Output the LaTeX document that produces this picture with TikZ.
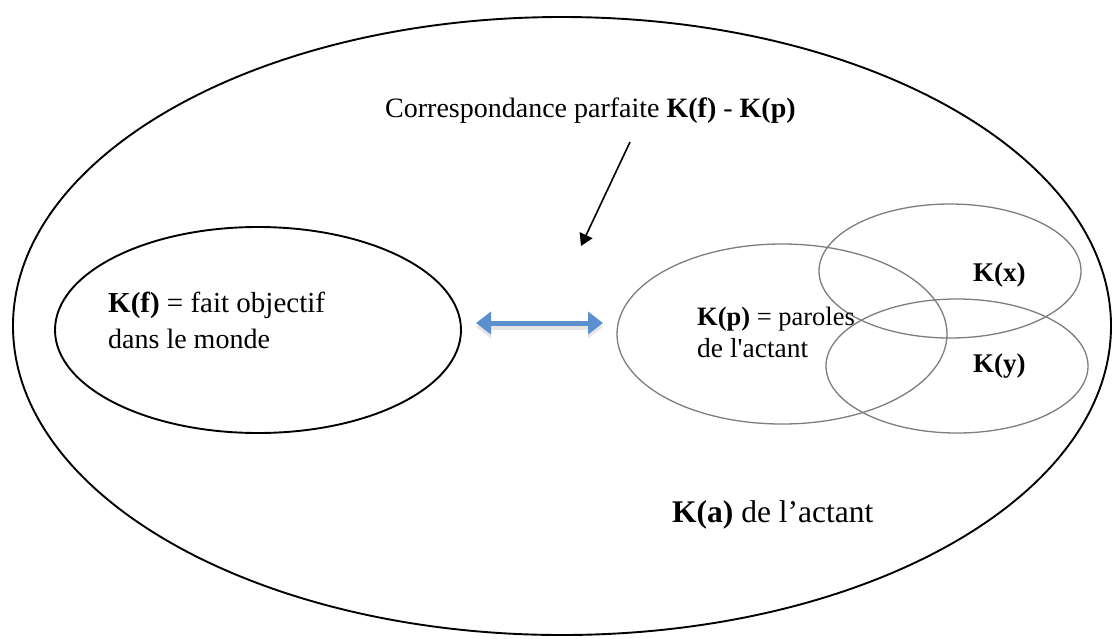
\documentclass[tikz,border=0pt]{standalone}
\usepackage{fontspec}
\setmainfont{Liberation Serif}
\usetikzlibrary{shapes.geometric,arrows.meta}
\definecolor{arrowblue}{RGB}{91,143,205}
\definecolor{ringgray}{RGB}{125,125,125}
\tikzset{
  blackring/.style={ellipse, draw=black, line width=1.9pt, inner sep=0pt},
  grayring/.style={ellipse, draw=ringgray, line width=1.3pt, inner sep=0pt},
  txt/.style={anchor=base west, inner sep=0pt, font=\fontsize{27}{32}\selectfont},
  bigtxt/.style={anchor=base west, inner sep=0pt, font=\fontsize{31.5}{36}\selectfont},
  pointer/.style={draw=black, line width=1.6pt, -{Triangle[length=12pt,width=14pt]}},
  twoway/.style={draw=arrowblue, line width=5pt, {Triangle[length=15pt,width=22pt]}-{Triangle[length=15pt,width=22pt]},
    preaction={draw=black!10, line width=6pt, transform canvas={yshift=-4pt}}}
}
\begin{document}
\begin{tikzpicture}[x=1pt,y=-1pt]
\useasboundingbox (0,0) rectangle (1113,638);
% outer ellipse
\node[blackring, minimum width=1098pt, minimum height=618pt] (ka) at (562,326) {};
% left ellipse
\node[blackring, minimum width=406pt, minimum height=206pt] (kf) at (258,330) {};
% right ellipses
\node[grayring, minimum width=330pt, minimum height=180pt] (kp) at (782,334) {};
\node[grayring, minimum width=262pt, minimum height=134pt] (kx) at (950,271) {};
\node[grayring, minimum width=262pt, minimum height=134pt] (ky) at (957,366) {};
% texts
\node[txt, font=\fontsize{28}{32}\selectfont] (title) at (385,117) {Correspondance parfaite \textbf{K(f)} - \textbf{K(p)}};
\node[txt, font=\fontsize{29}{32}\selectfont] (kf1) at (108,312) {\textbf{K(f)} = fait objectif};
\node[txt, font=\fontsize{28}{32}\selectfont] (kf2) at (108,348) {dans le monde};
\node[txt, font=\fontsize{26.5}{32}\selectfont] (kp1) at (697,325) {\textbf{K(p)} = paroles};
\node[txt, font=\fontsize{27.5}{32}\selectfont] (kp2) at (697,357) {de l\textquotesingle actant};
\node[txt] (kxt) at (973,281) {\textbf{K(x)}};
\node[txt] (kyt) at (973,372) {\textbf{K(y)}};
\node[bigtxt] (kat) at (672,522) {\textbf{K(a)} de l’actant};
% arrows
\coordinate (p0) at (630,142);
\coordinate (p1) at (581,246);
\draw[pointer] (p0) -- (p1);
\coordinate (b0) at (476,323);
\coordinate (b1) at (603,323);
\draw[twoway] (b0) -- (b1);
\end{tikzpicture}
\end{document}
